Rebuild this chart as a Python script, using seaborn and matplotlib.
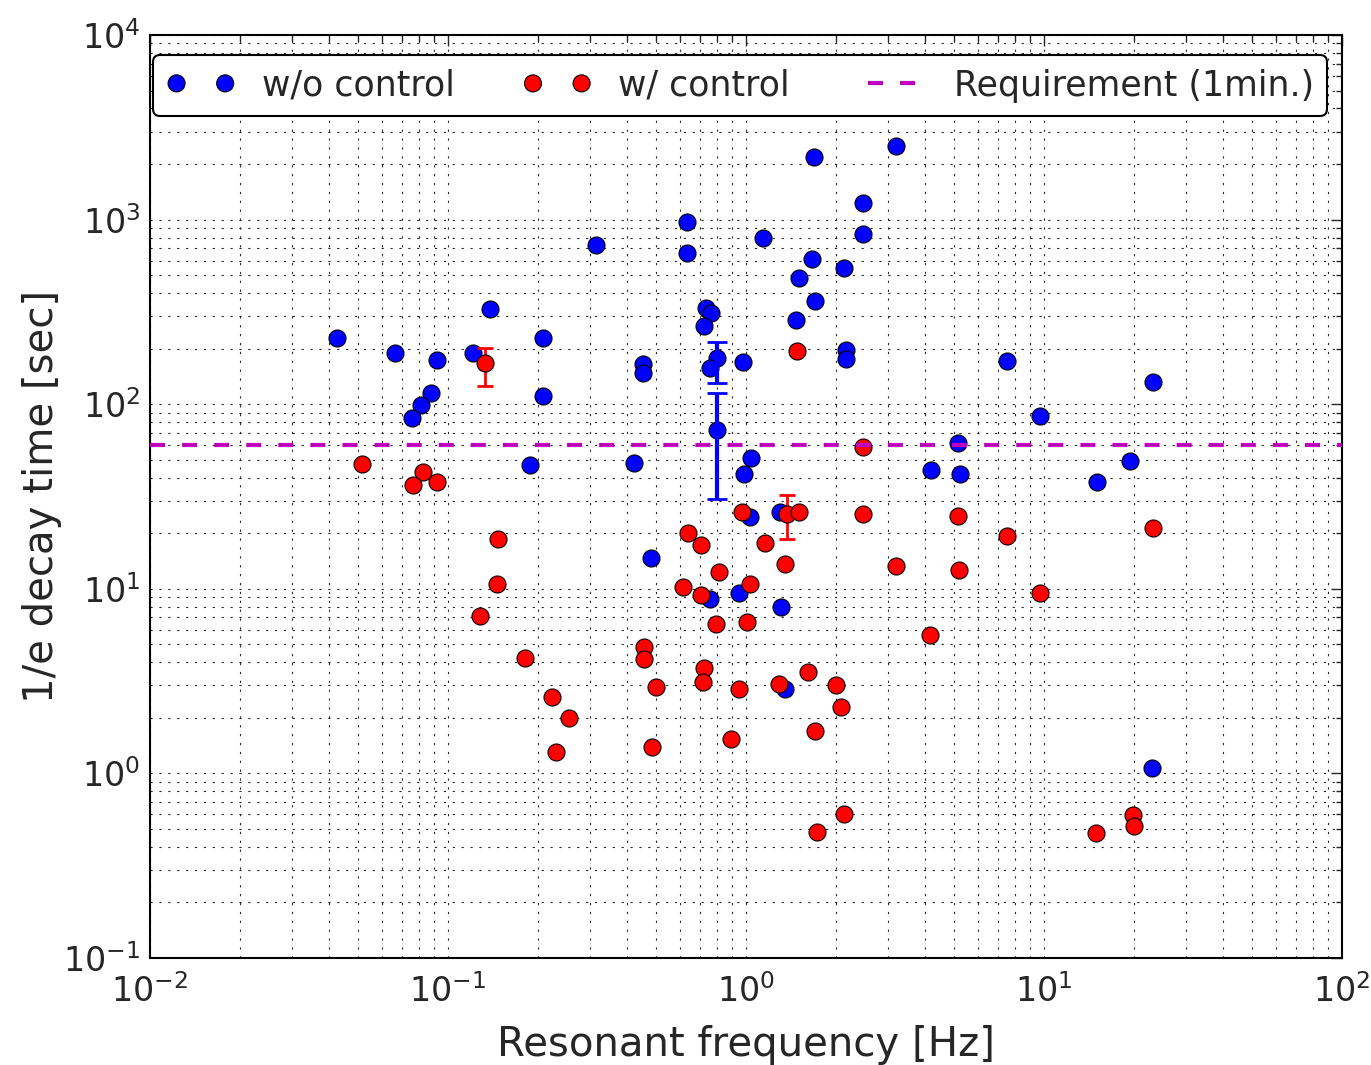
import numpy as np
import pandas as pd
import matplotlib
matplotlib.use("Agg")
import matplotlib.pyplot as plt
import seaborn as sns

# Resonant modes measured without damping control
wo_freq = [0.0423, 0.0662, 0.0916, 0.0875, 0.081, 0.0755, 0.121, 0.138, 0.209, 0.209,
           0.189, 0.313, 0.420, 0.450, 0.450, 0.479, 0.632, 0.632, 0.733, 0.762,
           0.722, 0.798, 0.755, 0.798, 0.975, 1.14, 1.69, 3.20, 2.47, 2.47,
           1.66, 2.13, 1.51, 1.71, 1.47, 2.16, 2.16, 7.50, 9.68, 23.2,
           5.14, 4.17, 5.21, 15.1, 19.5, 23.0, 1.04, 0.982, 1.03, 1.30,
           0.757, 0.944, 1.31, 1.35]
wo_tau = [228, 189, 173, 115, 99, 84, 189, 328, 228, 111,
          46.9, 728, 48, 165, 148, 14.7, 971, 659, 332, 312,
          265, 178, 157, 72.4, 169, 794, 2183, 2507, 1230, 836,
          612, 547, 483, 362, 286, 197, 176, 171, 86.3, 132,
          61.7, 44, 41.9, 37.9, 49.2, 1.07, 51.2, 41.9, 24.5, 26.1,
          8.8, 9.5, 7.96, 2.87]

# Resonant modes measured with damping control
w_freq = [0.0516, 0.0824, 0.0762, 0.0916, 0.133, 0.147, 0.146, 0.128, 0.182, 0.223,
          0.254, 0.230, 0.637, 0.709, 0.809, 0.614, 0.705, 0.791, 1.03, 1.01,
          0.970, 1.16, 1.37, 1.51, 1.35, 2.47, 2.47, 0.454, 0.454, 0.498,
          0.722, 0.716, 0.944, 1.29, 1.61, 2.01, 2.08, 1.70, 0.889, 0.483,
          1.73, 2.13, 14.9, 19.9, 20.0, 23.2, 7.50, 9.68, 5.14, 5.17,
          3.19, 4.14, 1.48]
w_tau = [47.4, 43, 36.5, 37.9, 167, 18.6, 10.6, 7.13, 4.22, 2.59,
         2.0, 1.31, 20.0, 17.3, 12.3, 10.2, 9.25, 6.44, 10.6, 6.6,
         26.1, 17.7, 25.4, 26.1, 13.6, 25.4, 58.6, 4.84, 4.17, 2.94,
         3.72, 3.13, 2.87, 3.05, 3.54, 3.01, 2.29, 1.70, 1.53, 1.39,
         0.482, 0.603, 0.475, 0.594, 0.519, 21.3, 19.3, 9.48, 24.8, 12.6,
         13.3, 5.62, 194]

# Measurement uncertainties (lower / upper bounds)
wo_err_freq = [0.798, 0.798]
wo_err_tau = [178, 72.4]
wo_err_low = [130, 30.6]
wo_err_high = [217, 115]

w_err_freq = [0.133, 1.37, 1.48]
w_err_tau = [167, 25.4, 194]
w_err_low = [126, 18.6, 186]
w_err_high = [201, 32.2, 202]

requirement = 60.0  # 1 minute

df_wo = pd.DataFrame({"freq": wo_freq, "tau": wo_tau})
df_w = pd.DataFrame({"freq": w_freq, "tau": w_tau})

sns.set_style("white")
plt.rcParams["font.family"] = ["DejaVu Sans"]
plt.rcParams["mathtext.fontset"] = "dejavusans"

fig, ax = plt.subplots(figsize=(13.71, 10.65), dpi=100)
fig.subplots_adjust(left=0.1094, right=0.9788, top=0.9671, bottom=0.1005)

ax.set_xscale("log")
ax.set_yscale("log")

sns.scatterplot(data=df_wo, x="freq", y="tau", ax=ax, color="#0000ff", s=150,
                edgecolor="black", linewidth=0.8, label="w/o control", zorder=3)
ax.errorbar(wo_err_freq, wo_err_tau,
            yerr=[np.array(wo_err_tau) - np.array(wo_err_low),
                  np.array(wo_err_high) - np.array(wo_err_tau)],
            fmt="none", ecolor="#0000ff", elinewidth=3, capsize=7, capthick=2, zorder=3.5)

sns.scatterplot(data=df_w, x="freq", y="tau", ax=ax, color="#ff0000", s=150,
                edgecolor="black", linewidth=0.8, label="w/ control", zorder=4)
ax.errorbar(w_err_freq, w_err_tau,
            yerr=[np.array(w_err_tau) - np.array(w_err_low),
                  np.array(w_err_high) - np.array(w_err_tau)],
            fmt="none", ecolor="#ff0000", elinewidth=2, capsize=6, capthick=2, zorder=3.8)

ax.axhline(requirement, color="#bf00bf", lw=3, linestyle=(0, (3.6, 4.1)),
           label="Requirement (1min.)", zorder=5)

ax.set_xlim(1e-2, 1e2)
ax.set_ylim(1e-1, 1e4)

ax.grid(True, which="both", color="0.15", linestyle=(0, (2, 6)), linewidth=0.8)
ax.set_axisbelow(True)
ax.tick_params(which="both", direction="in", top=True, right=True, labelsize=24)
ax.tick_params(axis="x", which="both", pad=12)
ax.tick_params(axis="y", which="both", pad=7)
ax.tick_params(which="major", length=8, width=1)
ax.tick_params(which="minor", length=4, width=1)
for sp in ax.spines.values():
    sp.set_color("black")
    sp.set_linewidth(1.5)

ax.set_xlabel("Resonant frequency [Hz]", fontsize=29, labelpad=11)
ax.set_ylabel("1/e decay time [sec]", fontsize=29, labelpad=1)

handles, labels = ax.get_legend_handles_labels()
leg = ax.legend(handles, labels, ncol=3, loc="upper left",
                bbox_to_anchor=(0.0025, 0.978), numpoints=2, scatterpoints=2,
                scatteryoffsets=[0.5], borderaxespad=0,
                fontsize=25, frameon=True, fancybox=True, framealpha=1,
                edgecolor="black", columnspacing=1.95, handlelength=2.0,
                handletextpad=0.76, borderpad=0.38)
leg.get_frame().set_linewidth(1.5)

fig.savefig("out.png", dpi=100)
